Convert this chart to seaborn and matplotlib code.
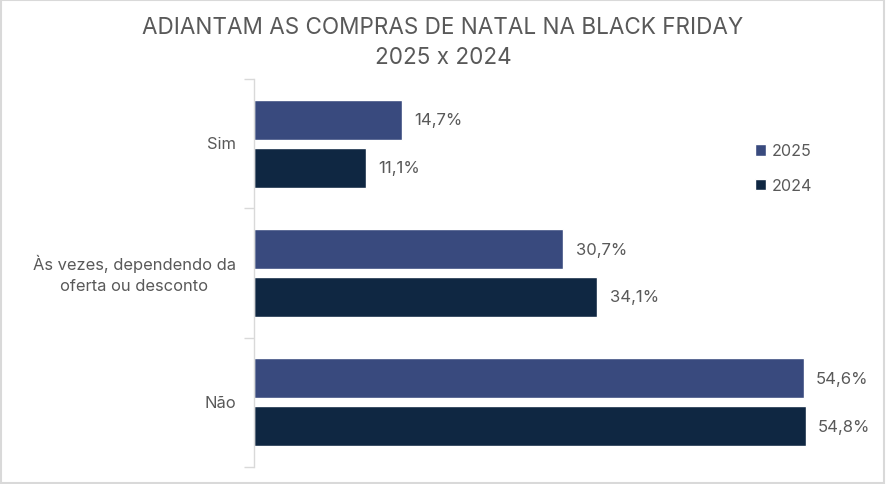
import matplotlib
matplotlib.use("Agg")
import matplotlib.pyplot as plt
import seaborn as sns
import pandas as pd
from matplotlib.patches import Rectangle

# dados
categorias = ["Sim", "Às vezes, dependendo da\noferta ou desconto", "Não"]
anos = ["2025", "2024"]
v2025 = [14.7, 30.7, 54.6]
v2024 = [11.1, 34.1, 54.8]
cores = ["#394a7e", "#0f2742"]
cinza = "#595959"

df = pd.DataFrame({
    "categoria": categorias * 2,
    "ano": [anos[0]] * 3 + [anos[1]] * 3,
    "valor": v2025 + v2024,
})

sns.set_style("white")
plt.rcParams["font.family"] = ["Inter", "DejaVu Sans"]

fig = plt.figure(figsize=(8.86, 4.85), dpi=100)
ax = fig.add_axes([254 / 886, 17 / 485, 604 / 886, 388 / 485])

sns.barplot(data=df, y="categoria", x="valor", hue="ano", order=categorias,
            hue_order=anos, palette=cores, orient="h", width=0.741, gap=0.167,
            saturation=1, ax=ax, legend=True)

for cont in ax.containers:
    rotulos = [f"{b.get_width():.1f}%".replace(".", ",") for b in cont]
    ax.bar_label(cont, labels=rotulos, padding=9, color=cinza, fontsize=12)

ax.set_xlim(0, 60)
ax.set_ylim(2.5, -0.5)
ax.set_xlabel("")
ax.set_ylabel("")
ax.set_xticks([])
ax.tick_params(axis="y", which="major", left=False, length=0, pad=13,
               labelsize=11.9, labelcolor=cinza)
ax.set_yticks([-0.5, 0.5, 1.5, 2.5], minor=True)
ax.tick_params(axis="y", which="minor", left=True, length=7,
               color="#d9d9d9", width=1)
for lbl in ax.get_yticklabels():
    lbl.set_multialignment("center")
    lbl.set_linespacing(1.5)
    lbl.set_verticalalignment("center")
for s in ["top", "right", "bottom"]:
    ax.spines[s].set_visible(False)
ax.spines["left"].set_color("#d9d9d9")
ax.spines["left"].set_linewidth(1)

ax.legend(loc="upper left", bbox_to_anchor=(740 / 886, 1 - 130 / 485),
          bbox_transform=fig.transFigure, frameon=False, fontsize=11.6,
          labelcolor=cinza, handlelength=0.7, handleheight=0.7,
          handletextpad=0.4, labelspacing=1.2)

fig.text(0.5, 1 - 28 / 485, "ADIANTAM AS COMPRAS DE NATAL NA BLACK FRIDAY",
         ha="center", va="center", fontsize=16.2, color=cinza)
fig.text(0.5, 1 - 58 / 485, "2025 x 2024", ha="center", va="center",
         fontsize=16.2, color=cinza)

fig.patches.append(Rectangle((0.001, 0.002), 0.997, 0.995, transform=fig.transFigure,
                             fill=False, edgecolor="#d9d9d9", linewidth=1.5))

fig.savefig("out.png", dpi=100)
